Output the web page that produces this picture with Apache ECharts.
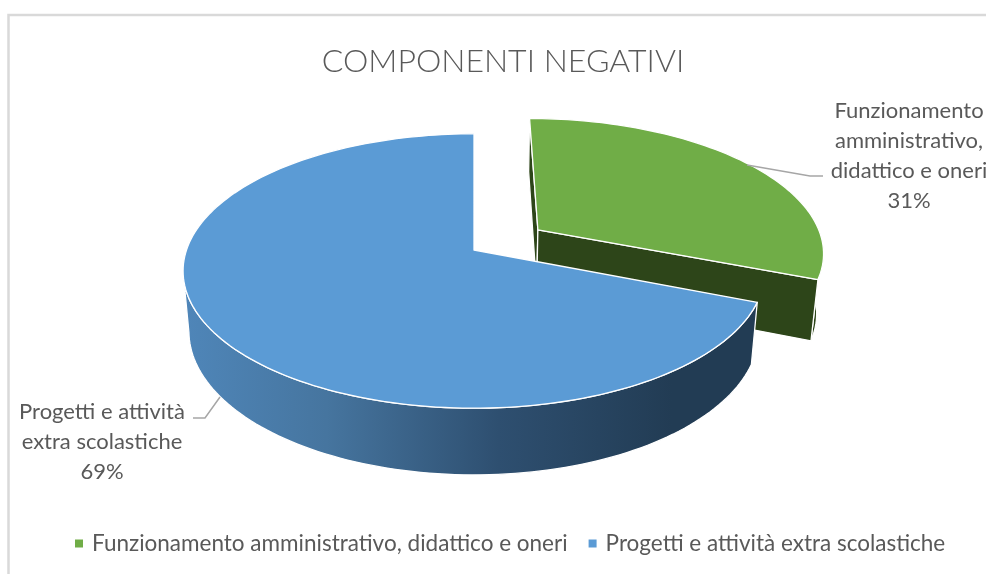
<!DOCTYPE html>
<html>
<head>
<meta charset="utf-8">
<style>
  html, body { margin: 0; padding: 0; background: #fff; overflow: hidden; }
  #chart { width: 986px; height: 574px; }
</style>
<script src="https://cdn.jsdelivr.net/npm/echarts@6/dist/echarts.min.js"></script>
</head>
<body>
<div id="chart"></div>
<script>
const chartTitle = 'COMPONENTI NEGATIVI';
const categories = ['Funzionamento amministrativo, didattico e oneri', 'Progetti e attività extra scolastiche'];
const values = [31, 69];
const labelLines = [
  ['Funzionamento', 'amministrativo,', 'didattico e oneri'],
  ['Progetti e attività', 'extra scolastiche']
];
const topColors = ['#70ad47', '#5b9bd5'];
const fontName = 'Lato';
const textColor = '#595959';

// perspective of the disc: apex on screen, radii, depth of the wall
const cx = 474, cy = 250, Rx = 287.5, Ry = 134;
const persp = 0.153, wallH = 61, wallShrink = 0.02;
const explode = 0.275;
// angles where the rim turns from the visible front to the hidden back
const rimLeft = 261, rimRight = 92;

const total = values.reduce((a, b) => a + b, 0);

function project(X, Y, low) {
  const s = 1 / (1 - persp * Y + (low ? wallShrink : 0));
  return [cx + Rx * X * s, cy + (Ry * Y + (low ? wallH : 0)) * s];
}

function arc(from, to, ox, oy, low) {
  const pts = [];
  const n = Math.ceil(Math.abs(to - from) / 1.5);
  for (let i = 0; i <= n; i++) {
    const a = (from + (to - from) * i / n) * Math.PI / 180;
    pts.push(project(Math.sin(a) + ox, -Math.cos(a) + oy, low));
  }
  return pts;
}

function poly(points, fill, stroke, z2) {
  return {
    type: 'polygon',
    z2: z2,
    shape: { points: points },
    style: { fill: fill, stroke: stroke || null, lineWidth: stroke ? 1.3 : 0, lineJoin: 'round' }
  };
}

function labelText(index, x, y) {
  const pct = Math.round(values[index] / total * 100) + '%';
  return {
    type: 'text',
    z2: 20,
    x: x,
    y: y,
    style: {
      text: labelLines[index].concat(pct).join('\n'),
      font: '22px ' + fontName,
      lineHeight: 30,
      fill: textColor,
      align: 'center',
      verticalAlign: 'top'
    }
  };
}

function leader(points) {
  return {
    type: 'polyline',
    z2: 15,
    shape: { points: points },
    style: { fill: null, stroke: '#a6a6a6', lineWidth: 1.5 }
  };
}

// green slice is pulled out of the pie, blue one stays in place
function renderGreen(params, api) {
  const start = 0;
  const end = api.value(0) / total * 360;
  const mid = (start + end) / 2 * Math.PI / 180;
  const ox = Math.sin(mid) * explode;
  const oy = -Math.cos(mid) * explode;
  const wall = '#2d4519';
  const apexT = project(ox, oy, false);
  const apexB = project(ox, oy, true);
  const top = arc(start, end, ox, oy, false);
  const bottom = arc(start, end, ox, oy, true);
  const rimTop = arc(rimRight, end, ox, oy, false);
  const rimBottom = arc(rimRight, end, ox, oy, true);
  const last = top.length - 1;
  return {
    type: 'group',
    children: [
      poly(rimTop.concat(rimBottom.slice().reverse()), wall, '#ffffff', 1),
      poly([top[0], apexT, apexB, bottom[0]], wall, '#ffffff', 2),
      poly([apexT, top[last], bottom[last], apexB], wall, '#ffffff', 3),
      poly([apexT].concat(top), topColors[0], '#ffffff', 4),
      leader([[747, 165], [810, 176], [823, 176]]),
      labelText(0, 909, 96)
    ]
  };
}

function renderBlue(params, api) {
  const start = values[0] / total * 360;
  const end = start + api.value(0) / total * 360;
  const top = arc(start, end, 0, 0, false);
  const wallTop = arc(start, rimLeft, 0, 0, false);
  const wallBottom = arc(start, rimLeft, 0, 0, true);
  const wallFill = new echarts.graphic.LinearGradient(0, 0, 1, 0, [
    { offset: 0, color: '#4f86b9' },
    { offset: 0.25, color: '#46759f' },
    { offset: 0.55, color: '#2e4f70' },
    { offset: 0.85, color: '#223c54' },
    { offset: 1, color: '#223c54' }
  ]);
  return {
    type: 'group',
    children: [
      poly(wallTop.concat(wallBottom.slice().reverse()), wallFill, '#ffffff', 5),
      poly([[cx, cy]].concat(top), topColors[1], '#ffffff', 6),
      leader([[220, 397], [205, 418], [193, 418]]),
      labelText(1, 102, 397)
    ]
  };
}

const chart = echarts.init(document.getElementById('chart'), null, { renderer: 'canvas' });

chart.setOption({
  animation: false,
  title: {
    text: chartTitle,
    left: 498,
    top: 41,
    textAlign: 'center',
    textStyle: { fontFamily: fontName, fontWeight: 300, fontSize: 32, color: textColor }
  },
  legend: {
    left: 70,
    top: 527,
    icon: 'rect',
    itemWidth: 8,
    itemHeight: 8,
    itemGap: 21,
    selectedMode: false,
    textStyle: { fontFamily: fontName, fontSize: 22.5, color: textColor, padding: [0, 0, 0, 4] },
    data: categories
  },
  graphic: [{
    type: 'polyline',
    silent: true,
    shape: { points: [[8.5, 574], [8.5, 15], [986, 15]] },
    style: { fill: null, stroke: '#d9d9d9', lineWidth: 2.5 }
  }],
  series: [
    {
      type: 'custom',
      name: categories[0],
      coordinateSystem: 'none',
      renderItem: renderGreen,
      itemStyle: { color: topColors[0] },
      data: [[values[0]]],
      z: 2
    },
    {
      type: 'custom',
      name: categories[1],
      coordinateSystem: 'none',
      renderItem: renderBlue,
      itemStyle: { color: topColors[1] },
      data: [[values[1]]],
      z: 3
    }
  ]
});
</script>
</body>
</html>
